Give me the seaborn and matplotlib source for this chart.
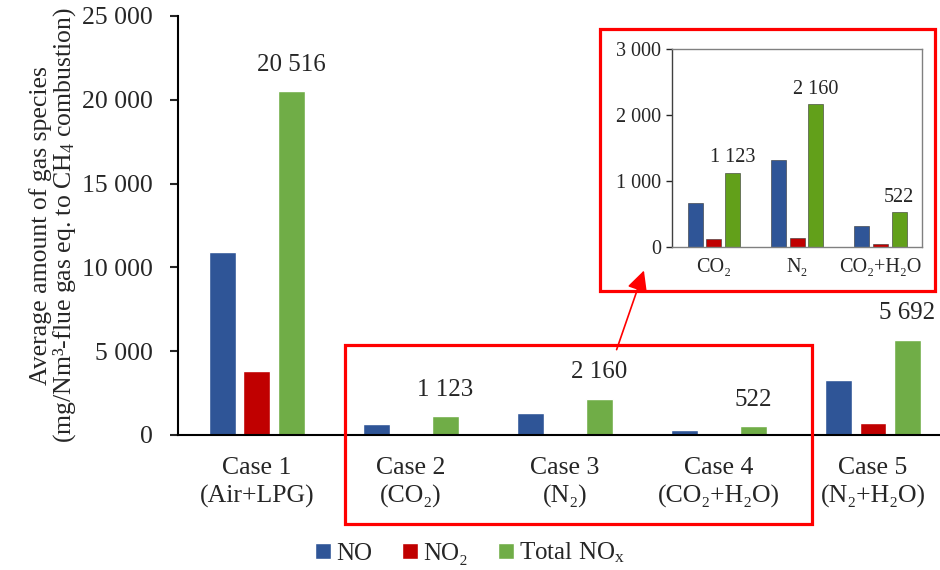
import pandas as pd
import seaborn as sns
import matplotlib.pyplot as plt
from matplotlib.patches import Rectangle, FancyArrowPatch

# Data
cases = ["Case 1\n(Air+LPG)", "Case 2\n(CO\u2082)", "Case 3\n(N\u2082)",
         "Case 4\n(CO\u2082+H\u2082O)", "Case 5\n(N\u2082+H\u2082O)"]
inset_cases = ["CO\u2082", "N\u2082", "CO\u2082+H\u2082O"]
species = ["NO", "NO\u2082", "Total NO$_\\mathrm{x}$"]
no_vals = [10900, 660, 1320, 310, 3250]
no2_vals = [3800, 112, 137, 45, 710]
total_vals = [20516, 1123, 2160, 522, 5692]
yticks = [0, 5000, 10000, 15000, 20000, 25000]
inset_yticks = [0, 1000, 2000, 3000]

main_colors = ["#2F5597", "#C00000", "#70AD47"]
inset_colors = ["#2F5597", "#C00000", "#62A01A"]

sns.set_theme(style="white")
plt.rcParams["font.family"] = ["Liberation Serif", "DejaVu Serif"]
plt.rcParams["mathtext.fontset"] = "custom"
plt.rcParams["mathtext.rm"] = "Liberation Serif"
plt.rcParams["mathtext.it"] = "Liberation Serif:italic"

df = pd.DataFrame({
    "case": cases * 3,
    "species": [s for s in species for _ in cases],
    "value": no_vals + no2_vals + total_vals,
})
df_in = df[df["case"].isin(cases[1:4])].copy()
df_in["case"] = df_in["case"].map(dict(zip(cases[1:4], inset_cases)))


def fmt(v):
    return f"{int(v):,}".replace(",", " ")


fig = plt.figure(figsize=(9.4, 5.7), dpi=100)
ax = fig.add_axes([0.189, 0.237, 0.811, 0.735])

sns.barplot(data=df, x="case", y="value", hue="species", palette=main_colors,
            saturation=1, width=0.67, gap=0.22, ax=ax, legend=True)
ax.set_xlim(-0.513, 4.435)
ax.set_ylim(0, 25000)
ax.set_yticks(yticks)
ax.set_yticklabels([fmt(t) for t in yticks], fontsize=18.5)
ax.set_xticks(range(len(cases)))
ax.set_xticklabels(cases, fontsize=18.5, linespacing=1.3)
ax.tick_params(axis="x", length=0, pad=16)
ax.tick_params(axis="y", direction="out", length=6, width=1.5, left=True, pad=12)
ax.set_xlabel("")
ax.set_ylabel("Average amount of gas species\n(mg/Nm\u00b3-flue gas eq. to CH$_\\mathrm{4}$ combustion)",
              fontsize=18.5, linespacing=0.95, labelpad=3)
for s in ["top", "right"]:
    ax.spines[s].set_visible(False)
for s in ["left", "bottom"]:
    ax.spines[s].set_color("black")
    ax.spines[s].set_linewidth(1.5)

ax.bar_label(ax.containers[2], labels=[fmt(v) for v in total_vals],
             fontsize=18, padding=11)

handles, labels = ax.get_legend_handles_labels()
ax.get_legend().remove()
fig.legend(handles, labels, loc="center", bbox_to_anchor=(0.5, 1 - 553 / 570),
           ncol=3, frameon=False, fontsize=18, handlelength=0.65,
           handleheight=0.65, handletextpad=0.2, columnspacing=1.2)

# Inset zoom on cases 2-4
ins = fig.add_axes([0.715, 0.567, 0.266, 0.347])
sns.barplot(data=df_in, x="case", y="value", hue="species", palette=inset_colors,
            saturation=1, width=0.67, gap=0.2, ax=ins, legend=False,
            edgecolor="#333333", linewidth=0.4)
ins.set_ylim(0, 3000)
ins.set_yticks(inset_yticks)
ins.set_yticklabels([fmt(t) for t in inset_yticks], fontsize=14.5)
ins.tick_params(axis="x", length=0, labelsize=14.5, pad=8)
ins.tick_params(axis="y", direction="out", length=4, width=1, left=True, pad=4)
ins.set_xlabel("")
ins.set_ylabel("")
for s in ins.spines.values():
    s.set_color("#808080")
    s.set_linewidth(1)
ins.spines["left"].set_color("#404040")
ins.bar_label(ins.containers[2], labels=[fmt(v) for v in total_vals[1:4]],
              fontsize=14.5, padding=4)

# Red highlight boxes and arrow
fig.add_artist(Rectangle((0.367, 0.0807), 0.497, 0.314, transform=fig.transFigure,
                         fill=False, edgecolor="red", linewidth=2.3))
fig.add_artist(Rectangle((0.638, 0.4895), 0.357, 0.46, transform=fig.transFigure,
                         fill=False, edgecolor="red", linewidth=2.3))
fig.add_artist(FancyArrowPatch((0.655, 0.382), (0.686, 0.530), transform=fig.transFigure,
                               arrowstyle="-|>,head_length=0.9,head_width=0.45",
                               mutation_scale=14, color="red", linewidth=1.2))

fig.savefig("out.png", dpi=100)
